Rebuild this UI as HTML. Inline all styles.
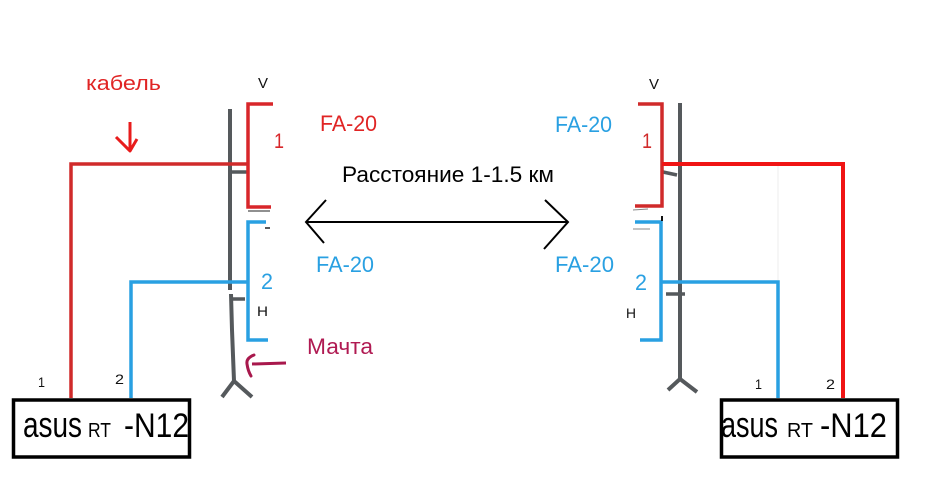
<!DOCTYPE html>
<html>
<head>
<meta charset="utf-8">
<style>
html,body{margin:0;padding:0;background:#fff;}
svg{display:block;}
text{font-family:"Liberation Sans",sans-serif;}
</style>
</head>
<body>
<svg width="928" height="490" viewBox="0 0 928 490" xmlns="http://www.w3.org/2000/svg">
<rect width="928" height="490" fill="#fff"/>

<!-- ===== LEFT SIDE ===== -->
<text x="86" y="90" font-size="20" fill="#e02424" textLength="75" lengthAdjust="spacingAndGlyphs">кабель</text>
<line x1="130" y1="122" x2="130" y2="151" stroke="#e81c1c" stroke-width="3"/>
<polyline points="116,137 130,151 137,139" fill="none" stroke="#e81c1c" stroke-width="3" stroke-linejoin="round"/>

<text x="258" y="88" font-size="15" fill="#111" textLength="10" lengthAdjust="spacingAndGlyphs">V</text>

<!-- mast left -->
<polyline points="230,109 230,290" fill="none" stroke="#55595c" stroke-width="4"/>
<polyline points="231,294 232,330 234,381" fill="none" stroke="#55595c" stroke-width="4"/>
<polyline points="222,397 234,381 252,397" fill="none" stroke="#55595c" stroke-width="4" stroke-linejoin="round"/>
<line x1="231" y1="172" x2="248" y2="172" stroke="#55595c" stroke-width="3.5"/>
<line x1="232" y1="299" x2="245" y2="299" stroke="#55595c" stroke-width="3.5"/>

<!-- red cable left -->
<polyline points="71,398 71,164 248,164" fill="none" stroke="#d02a2a" stroke-width="3.5"/>
<!-- red bracket left -->
<polyline points="273,104 248,104 248,207 271,207" fill="none" stroke="#d8262a" stroke-width="3.5"/>
<text x="274" y="148" font-size="21" fill="#d8262a" textLength="10" lengthAdjust="spacingAndGlyphs">1</text>
<text x="320" y="131" font-size="22" fill="#e02424" textLength="57" lengthAdjust="spacingAndGlyphs">FA-20</text>
<line x1="248" y1="211" x2="270" y2="211" stroke="#222" stroke-width="1"/>

<!-- blue bracket left -->
<polyline points="266,222 248,222 248,340 268,340" fill="none" stroke="#29a0e2" stroke-width="3.5"/>
<line x1="265" y1="228" x2="270" y2="228" stroke="#222" stroke-width="1.5"/>
<polyline points="131,398 131,282 248,282" fill="none" stroke="#29a0e2" stroke-width="3.5"/>
<text x="261" y="289" font-size="22" fill="#29a0e2" textLength="12" lengthAdjust="spacingAndGlyphs">2</text>
<text x="257" y="316" font-size="14" fill="#111" textLength="11" lengthAdjust="spacingAndGlyphs">H</text>
<text x="316" y="272" font-size="22" fill="#29a0e2" textLength="58" lengthAdjust="spacingAndGlyphs">FA-20</text>

<!-- Мачта -->
<text x="307" y="354" font-size="22" fill="#b01a52" textLength="66" lengthAdjust="spacingAndGlyphs">Мачта</text>
<line x1="252" y1="364" x2="286" y2="363" stroke="#a8184c" stroke-width="3"/>
<path d="M254,355 Q246,358 247,364 Q248,371 251,376" fill="none" stroke="#a8184c" stroke-width="3" stroke-linecap="round"/>

<text x="38" y="387" font-size="14" fill="#111" textLength="7" lengthAdjust="spacingAndGlyphs">1</text>
<text x="115" y="384" font-size="14" fill="#111" textLength="9" lengthAdjust="spacingAndGlyphs">2</text>

<!-- left box -->
<rect x="13.5" y="400" width="176" height="57" fill="#fff" stroke="#000" stroke-width="3.5"/>
<text x="23" y="437" font-size="36" fill="#000" textLength="59" lengthAdjust="spacingAndGlyphs">asus</text>
<text x="88" y="437" font-size="20" fill="#000" textLength="23" lengthAdjust="spacingAndGlyphs">RT</text>
<text x="124" y="437" font-size="34" fill="#000" textLength="65" lengthAdjust="spacingAndGlyphs">-N12</text>

<!-- ===== CENTER ===== -->
<text x="342" y="182" font-size="22" fill="#000" textLength="212" lengthAdjust="spacingAndGlyphs">Расстояние 1-1.5 км</text>
<line x1="307" y1="222" x2="568" y2="222" stroke="#000" stroke-width="2"/>
<polyline points="326,200 306,222 324,243" fill="none" stroke="#000" stroke-width="2"/>
<polyline points="545,200 568,222 544,249" fill="none" stroke="#000" stroke-width="2"/>

<!-- ===== RIGHT SIDE ===== -->
<text x="649" y="89" font-size="15" fill="#111" textLength="10" lengthAdjust="spacingAndGlyphs">V</text>
<text x="555" y="132" font-size="22" fill="#29a0e2" textLength="57" lengthAdjust="spacingAndGlyphs">FA-20</text>
<text x="555" y="272" font-size="22" fill="#29a0e2" textLength="59" lengthAdjust="spacingAndGlyphs">FA-20</text>

<!-- mast right -->
<line x1="680" y1="103" x2="680" y2="379" stroke="#55595c" stroke-width="4"/>
<polyline points="668,390 680,379 697,392" fill="none" stroke="#55595c" stroke-width="4" stroke-linejoin="round"/>
<line x1="663" y1="172" x2="677" y2="175" stroke="#55595c" stroke-width="3.5"/>
<line x1="666" y1="294" x2="685" y2="294" stroke="#55595c" stroke-width="3.5"/>

<line x1="778" y1="166" x2="778" y2="280" stroke="#eeeeee" stroke-width="1"/>

<!-- red bracket right -->
<polyline points="638,104 662,104 662,206 635,206" fill="none" stroke="#d02a2a" stroke-width="3.5"/>
<text x="642" y="148" font-size="21" fill="#d02a2a" textLength="10" lengthAdjust="spacingAndGlyphs">1</text>
<polyline points="662,164 843,164 843,398" fill="none" stroke="#f01414" stroke-width="4"/>

<!-- blue bracket right -->
<line x1="633" y1="210" x2="648" y2="209" stroke="#888" stroke-width="1"/>
<line x1="633" y1="229" x2="650" y2="229" stroke="#888" stroke-width="1"/>
<polyline points="635,222 661,222 661,340 640,340" fill="none" stroke="#29a0e2" stroke-width="3.5"/>
<line x1="662" y1="216" x2="662" y2="221" stroke="#111" stroke-width="2"/>
<polyline points="661,282 778,282 778,398" fill="none" stroke="#29a0e2" stroke-width="3.5"/>
<text x="635" y="290" font-size="22" fill="#29a0e2" textLength="12" lengthAdjust="spacingAndGlyphs">2</text>
<text x="626" y="318" font-size="14" fill="#111" textLength="10" lengthAdjust="spacingAndGlyphs">H</text>

<text x="755" y="389" font-size="14" fill="#111" textLength="7" lengthAdjust="spacingAndGlyphs">1</text>
<text x="826" y="389" font-size="14" fill="#111" textLength="9" lengthAdjust="spacingAndGlyphs">2</text>

<!-- right box -->
<rect x="721.5" y="400" width="176" height="57" fill="#fff" stroke="#000" stroke-width="3.5"/>
<text x="721" y="437" font-size="36" fill="#000" textLength="57" lengthAdjust="spacingAndGlyphs">asus</text>
<text x="787" y="437" font-size="20" fill="#000" textLength="26" lengthAdjust="spacingAndGlyphs">RT</text>
<text x="820" y="437" font-size="34" fill="#000" textLength="67" lengthAdjust="spacingAndGlyphs">-N12</text>
</svg>
</body>
</html>
